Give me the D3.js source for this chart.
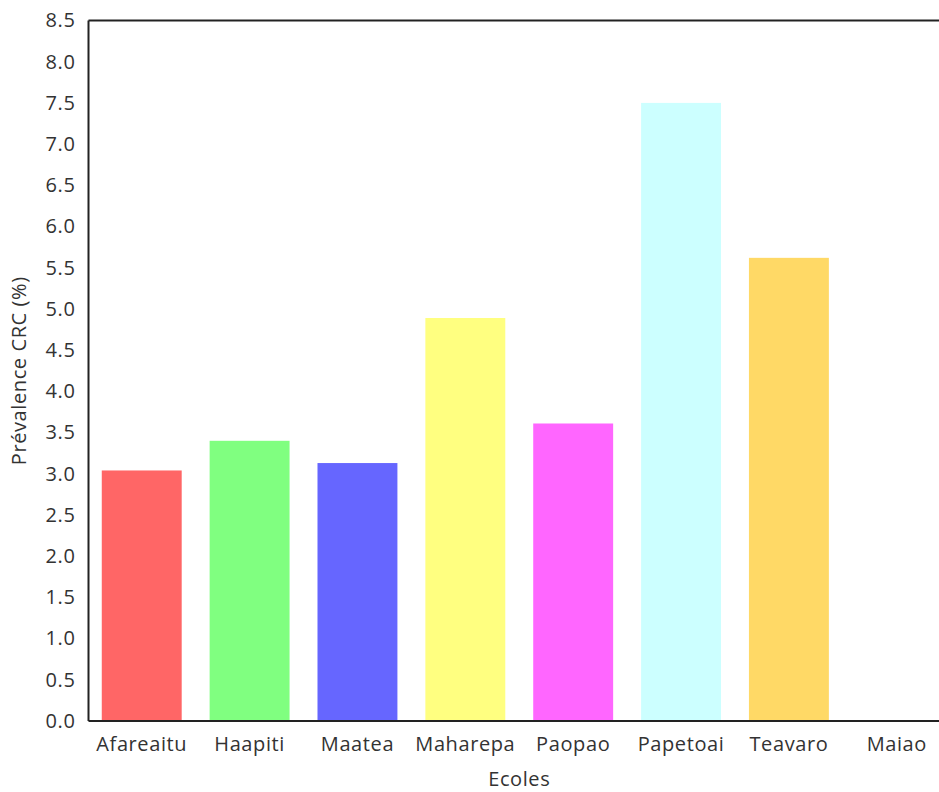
<!DOCTYPE html>
<html>
<head>
<meta charset="utf-8">
<script src="https://cdn.jsdelivr.net/npm/d3@7"></script>
<style>
html,body{margin:0;padding:0;background:#fff;}
svg{display:block;}
text{font-family:"Open Sans",sans-serif;fill:#333;}
</style>
</head>
<body>
<svg id="chart" width="939" height="792"></svg>
<script>
const categories = ["Afareaitu","Haapiti","Maatea","Maharepa","Paopao","Papetoai","Teavaro","Maiao"];
const values = [3.04, 3.40, 3.13, 4.89, 3.61, 7.50, 5.62, 0];
const colors = ["#ff6666","#80ff80","#6666ff","#ffff80","#ff66ff","#ccffff","#ffd966","#999999"];
const yTicks = [0,0.5,1,1.5,2,2.5,3,3.5,4,4.5,5,5.5,6,6.5,7,7.5,8,8.5];
const xTitle = "Ecoles";
const yTitle = "Prévalence CRC (%)";

const svg = d3.select("#chart");
const L = 88.5, R = 950, T = 20.5, B = 721;
const FS = "20px", LS = "0.6px";

const x = d3.scaleBand().domain(categories).range([L, R]).paddingInner(0.259).paddingOuter(0.123);
const y = d3.scaleLinear().domain([0, 8.5]).range([B, T]);

svg.append("g").selectAll("rect").data(categories).join("rect")
  .attr("x", d => x(d))
  .attr("width", x.bandwidth())
  .attr("y", (d,i) => y(values[i]))
  .attr("height", (d,i) => B - y(values[i]))
  .attr("fill", (d,i) => colors[i]);

// frame lines
svg.append("line").attr("x1", L).attr("x2", L).attr("y1", T).attr("y2", B).attr("stroke", "#222").attr("stroke-width", 2);
svg.append("line").attr("x1", L).attr("x2", 939).attr("y1", T).attr("y2", T).attr("stroke", "#222").attr("stroke-width", 2);
svg.append("line").attr("x1", L).attr("x2", 939).attr("y1", B).attr("y2", B).attr("stroke", "#222").attr("stroke-width", 2);

const yAxis = d3.axisLeft(y).tickValues(yTicks).tickFormat(d3.format(".1f")).tickSize(0).tickPadding(13);
const ga = svg.append("g").attr("transform", `translate(${L},0)`).call(yAxis);
ga.select(".domain").remove();
ga.selectAll("text").style("font-size", FS).style("letter-spacing", LS).style("font-family", "'Open Sans',sans-serif").attr("fill", "#333");

const xAxis = d3.axisBottom(x).tickSize(0).tickPadding(16);
const gx = svg.append("g").attr("transform", `translate(0,${B})`).call(xAxis);
gx.select(".domain").remove();
gx.selectAll("text").style("font-size", FS).style("letter-spacing", LS).style("font-family", "'Open Sans',sans-serif").attr("fill", "#333");

svg.append("text").attr("x", (L + R) / 2).attr("y", 786).attr("text-anchor", "middle")
  .style("font-size", FS).style("letter-spacing", LS).text(xTitle);
svg.append("text").attr("transform", `translate(26,${(T + B) / 2}) rotate(-90)`).attr("text-anchor", "middle")
  .style("font-size", FS).style("letter-spacing", LS).text(yTitle);
</script>
</body>
</html>
